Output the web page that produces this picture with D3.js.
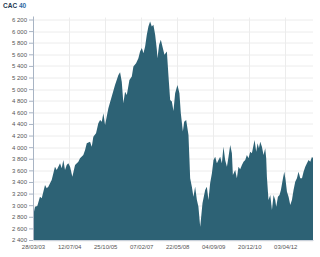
<!DOCTYPE html>
<html>
<head>
<meta charset="utf-8">
<script src="https://cdn.jsdelivr.net/npm/d3@7"></script>
<style>
  body { margin: 0; background: #fff; }
  svg { display: block; font-family: "Liberation Sans", Arial, sans-serif; }
  .tick text { fill: #555; }
  .grid line { stroke: #ececec; stroke-width: 1; }
</style>
</head>
<body>
<svg width="320" height="257"></svg>
<script>
// CAC 40 closing levels
const dates = [
  "2003-03-28","2003-04-23","2003-05-23","2003-06-27","2003-07-20","2003-09-01","2003-09-23","2003-10-14","2003-11-27",
  "2004-01-09","2004-02-01","2004-03-15","2004-04-06","2004-04-27","2004-05-19","2004-06-10","2004-07-01","2004-07-24",
  "2004-08-23","2004-09-27","2004-11-09","2004-12-01",
  "2005-01-13","2005-02-05","2005-02-27","2005-04-11","2005-05-03","2005-05-24","2005-06-28","2005-07-28","2005-08-20",
  "2005-09-11","2005-10-02","2005-10-24","2005-12-06",
  "2006-01-19","2006-03-03","2006-04-16","2006-05-08","2006-05-30","2006-06-20","2006-07-12","2006-08-04","2006-09-07",
  "2006-10-08","2006-10-29","2006-12-03",
  "2007-01-02","2007-01-24","2007-02-16","2007-03-09","2007-03-31","2007-04-22","2007-05-13","2007-06-04","2007-06-26",
  "2007-07-17","2007-08-09","2007-08-31","2007-09-08","2007-09-30","2007-10-22","2007-11-17","2007-12-08",
  "2008-01-09","2008-01-29","2008-02-21","2008-03-14","2008-04-04","2008-04-26","2008-05-26","2008-06-21","2008-07-09",
  "2008-08-05","2008-08-22","2008-09-17","2008-10-17","2008-10-30","2008-11-08","2008-11-30","2008-12-21",
  "2009-01-12","2009-02-04","2009-02-24","2009-03-19","2009-03-28","2009-04-18","2009-05-23","2009-06-14","2009-07-05",
  "2009-07-27","2009-08-19","2009-09-09","2009-10-01","2009-10-23","2009-11-13","2009-12-05","2009-12-27",
  "2010-01-17","2010-02-08","2010-03-03","2010-03-24","2010-04-15","2010-05-07","2010-05-20","2010-06-19","2010-07-11",
  "2010-08-01","2010-08-23","2010-09-15","2010-10-06","2010-10-28","2010-11-19","2010-12-10",
  "2011-01-01","2011-01-23","2011-02-14","2011-02-27","2011-03-21","2011-04-07","2011-04-25","2011-05-12","2011-06-03",
  "2011-06-24","2011-07-16","2011-07-29","2011-08-07","2011-08-28","2011-09-20","2011-10-12","2011-11-02","2011-11-24",
  "2011-12-07","2011-12-29",
  "2012-01-19","2012-02-06","2012-03-04","2012-03-21","2012-04-07","2012-04-25","2012-05-16","2012-06-07","2012-06-29",
  "2012-07-20","2012-08-11","2012-09-02","2012-09-23","2012-10-16","2012-11-07","2012-11-28","2012-12-20",
  "2013-01-11","2013-02-01","2013-02-23","2013-03-18","2013-03-31"
];
const values = [
  2802,2974,2986,3147,3119,3348,3291,3319,3434,
  3664,3607,3722,3636,3779,3607,3693,3722,3664,
  3491,3693,3750,3809,
  3866,3952,4067,4095,4009,4181,4240,4412,4469,
  4440,4584,4383,4670,
  4871,5072,5245,5291,5129,4756,4957,4900,5159,
  5216,5388,5448,
  5534,5649,5707,5620,5735,5936,6080,6166,6080,
  6109,5936,5678,5534,5764,5850,5707,5591,
  5649,5245,4814,4785,4624,4929,5072,4929,4584,
  4268,4440,4469,4210,3779,3463,3319,3147,
  3319,3090,2974,2629,2745,3033,3262,3319,3090,
  3377,3550,3779,3836,3722,3779,3836,3722,
  4009,3779,3664,3836,4038,3894,3520,3607,3463,
  3664,3620,3693,3750,3779,3866,3809,
  3922,3894,4038,4124,3922,4067,3981,4095,4009,
  3866,3981,3809,3491,3090,3176,2917,3176,3090,
  2974,3147,
  3176,3262,3463,3578,3434,3233,3147,3003,3090,
  3262,3405,3463,3578,3463,3463,3578,3664,
  3722,3779,3750,3836,3809
];
const xTickLabels = ["28/03/03","12/07/04","25/10/05","07/02/07","22/05/08","04/09/09","20/12/10","03/04/12"];
const yTickValues = [2400,2600,2800,3000,3200,3400,3600,3800,4000,4200,4400,4600,4800,5000,5200,5400,5600,5800,6000,6200];

const parseDate = d3.timeParse("%Y-%m-%d");
const parseTick = d3.timeParse("%d/%m/%y");
const data = dates.map((d, i) => ({date: parseDate(d), value: values[i]}));
const xTicks = xTickLabels.map(parseTick);

const svg = d3.select('svg');
const margin = {top: 19.5, right: 7, bottom: 17, left: 33};
const width = +svg.attr('width');
const height = +svg.attr('height');
const innerWidth = width - margin.left - margin.right;
const innerHeight = height - margin.top - margin.bottom;

const xScale = d3.scaleTime()
  .domain(d3.extent(data, d => d.date))
  .range([0, innerWidth]);
const yScale = d3.scaleLinear()
  .domain([2400, 6200])
  .range([innerHeight, 0]);

const fmt = d3.formatLocale({decimal: ",", thousands: " ", grouping: [3], currency: ["", ""]}).format(",d");

const g = svg.append('g').attr('transform', `translate(${margin.left},${margin.top})`);

// grid
g.append('g').attr('class', 'grid')
  .selectAll('line').data(yTickValues).join('line')
  .attr('x1', 0).attr('x2', innerWidth)
  .attr('y1', d => Math.round(yScale(d)) + 0.5).attr('y2', d => Math.round(yScale(d)) + 0.5);
g.append('g').attr('class', 'grid')
  .selectAll('line').data(xTicks.slice(1)).join('line')
  .attr('x1', d => Math.round(xScale(d)) + 0.5).attr('x2', d => Math.round(xScale(d)) + 0.5)
  .attr('y1', -2).attr('y2', innerHeight);

// area
const area = d3.area()
  .x(d => xScale(d.date))
  .y0(yScale(2400))
  .y1(d => yScale(d.value));
g.append('path')
  .datum(data)
  .attr('fill', '#2d6275')
  .attr('d', area);

// y axis
const yAxisG = g.append('g')
  .call(d3.axisLeft(yScale).tickValues(yTickValues).tickFormat(fmt).tickSize(4).tickPadding(2))
  .attr('font-size', 6).attr('font-family', null);
yAxisG.select('.domain').attr('stroke', '#a8b4c4').attr('d', `M0.5,-3V${innerHeight}`);
yAxisG.selectAll('.tick line').attr('stroke', '#a8b4c4');

// x axis
const xAxisG = g.append('g')
  .attr('transform', `translate(0,${innerHeight})`)
  .call(d3.axisBottom(xScale).tickValues(xTicks).tickFormat((d, i) => xTickLabels[i]).tickSize(0))
  .attr('font-size', 6).attr('font-family', null);
xAxisG.selectAll('.tick text').attr('dy', null).attr('y', 8.5);
xAxisG.select('.domain').attr('stroke', '#c8d0da');

// title
const title = svg.append('text')
  .attr('x', 3).attr('y', 8)
  .attr('font-size', 6.5).attr('font-weight', 'bold');
title.append('tspan').attr('fill', '#22364f').text('CAC ');
title.append('tspan').attr('fill', '#2f6aa3').text('40');
</script>
</body>
</html>
